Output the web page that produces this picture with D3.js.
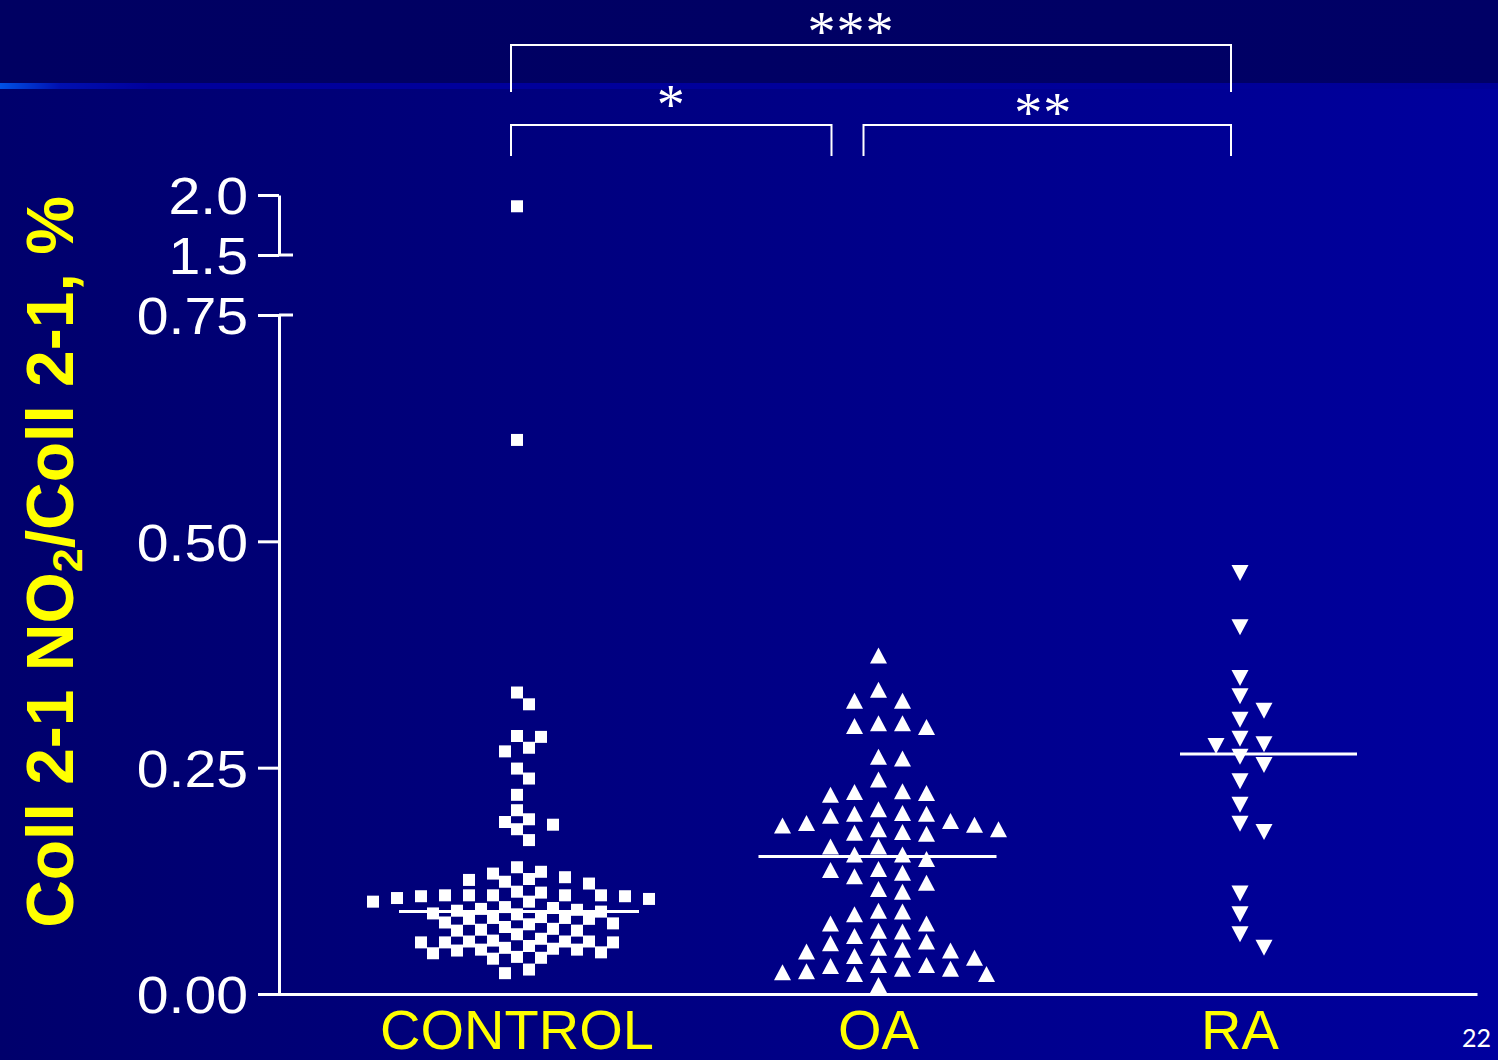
<!DOCTYPE html>
<html>
<head>
<meta charset="utf-8">
<script src="https://cdn.jsdelivr.net/npm/d3@7"></script>
<style>
  html, body { margin: 0; padding: 0; background: #000070; }
  svg { display: block; }
</style>
</head>
<body>
<svg id="chart" width="1498" height="1060"></svg>
<script>
// ---- data ----
const groups = ["CONTROL", "OA", "RA"];

const controlValues = [
  1.906, 0.612, 0.333, 0.320, 0.285, 0.284, 0.272, 0.268, 0.249, 0.238,
  0.220, 0.203, 0.193, 0.190, 0.187, 0.182, 0.170,
  0.129, 0.109, 0.088, 0.070, 0.057, 0.102,
  0.126, 0.109, 0.085, 0.066, 0.057, 0.046, 0.095,
  0.122, 0.108, 0.083, 0.059, 0.049, 0.040, 0.094,
  0.112, 0.105, 0.079, 0.058, 0.049, 0.039, 0.091, 0.072,
  0.135, 0.106, 0.077, 0.050, 0.023, 0.113, 0.089, 0.058,
  0.140, 0.108, 0.078, 0.051, 0.027, 0.124, 0.092, 0.061,
  0.109, 0.083, 0.053, 0.041, 0.127, 0.093, 0.070,
  0.109, 0.084, 0.057, 0.045, 0.133, 0.096, 0.071,
  0.109, 0.084, 0.058, 0.048, 0.102, 0.074
];

const oaValues = [
  0.374, 0.336, 0.324, 0.324, 0.299, 0.295, 0.296, 0.299, 0.262, 0.260,
  0.237, 0.223, 0.220, 0.222, 0.224, 0.204, 0.199, 0.199, 0.200, 0.197,
  0.189, 0.187, 0.191, 0.186, 0.182, 0.178, 0.177, 0.179, 0.182, 0.163,
  0.163, 0.154, 0.149, 0.154, 0.137, 0.138, 0.130, 0.134, 0.123, 0.116,
  0.113, 0.092, 0.088, 0.091, 0.078, 0.078, 0.069, 0.070, 0.058, 0.064,
  0.056, 0.051, 0.048, 0.042, 0.040, 0.047, 0.049, 0.032, 0.028, 0.025,
  0.022, 0.032, 0.022, 0.024, 0.028, 0.031, 0.010
];

const raValues = [
  0.465, 0.405, 0.349, 0.329, 0.313, 0.303, 0.282, 0.274, 0.276, 0.262,
  0.253, 0.235, 0.209, 0.188, 0.179, 0.111, 0.088, 0.066, 0.051
];

const medians = [0.091, 0.152, 0.265];

const lowerTicks = [0, 0.25, 0.5, 0.75];
const lowerTickLabels = ["0.00", "0.25", "0.50", "0.75"];
const upperTicks = [1.5, 2.0];
const upperTickLabels = ["1.5", "2.0"];

const comparisons = [
  { from: "CONTROL", to: "RA", label: "***" },
  { from: "CONTROL", to: "OA", label: "*" },
  { from: "OA", to: "RA", label: "**" }
];

// ---- layout / style ----
const W = 1498, H = 1060;
const axisX = 279, axisRight = 1477;
const white = "#ffffff", yellow = "#ffff00";
const sansFont = "'Liberation Sans', Arial, sans-serif";

const svg = d3.select("#chart");
const defs = svg.append("defs");

// slide background
function hGradient(id, stops) {
  const g = defs.append("linearGradient").attr("id", id)
    .attr("x1", 0).attr("x2", 1).attr("y1", 0).attr("y2", 0);
  stops.forEach(([o, c]) => g.append("stop").attr("offset", o).attr("stop-color", c));
}
hGradient("bg", [[0, "#00006c"], [1, "#00009e"]]);
hGradient("topband", [[0, "#000062"], [1, "#000066"]]);
hGradient("rule", [[0, "#0052e6"], [0.04, "#0010b0"], [0.1, "#00009c"], [1, "#000098"]]);

svg.append("rect").attr("width", W).attr("height", H).attr("fill", "url(#bg)");
svg.append("rect").attr("width", W).attr("height", 83).attr("fill", "url(#topband)");
svg.append("rect").attr("y", 83).attr("width", W).attr("height", 6).attr("fill", "url(#rule)");

// ---- scales (broken y axis) ----
const yLow = d3.scaleLinear().domain([0, 0.75]).range([994, 315]);
const yHigh = d3.scaleLinear().domain([1.5, 2.0]).range([255, 195]);
const yPos = v => (v > 0.75 ? yHigh(v) : yLow(v));

const x = d3.scalePoint().domain(groups).range([517, 1240]);

// ---- axes ----
const tickStretch = 1.1;
function styleAxis(g) {
  g.selectAll("path.domain").attr("stroke", white).attr("stroke-width", 3);
  g.selectAll(".tick line").attr("stroke", white).attr("stroke-width", 3);
  g.selectAll(".tick text")
    .attr("fill", white)
    .attr("x", -31 / tickStretch)
    .attr("dy", "0.36em")
    .attr("transform", `scale(${tickStretch},1)`)
    .style("font-family", sansFont)
    .style("font-size", "52px");
}

const yAxisLow = d3.axisLeft(yLow).tickValues(lowerTicks)
  .tickFormat((d, i) => lowerTickLabels[i]).tickSize(21).tickSizeOuter(0);
svg.append("g").attr("transform", `translate(${axisX},0)`).call(yAxisLow).call(styleAxis);

const yAxisHigh = d3.axisLeft(yHigh).tickValues(upperTicks)
  .tickFormat((d, i) => upperTickLabels[i]).tickSize(21).tickSizeOuter(0);
svg.append("g").attr("transform", `translate(${axisX},0)`).call(yAxisHigh).call(styleAxis);

// caps at the axis break
const caps = [yLow(0.75), yHigh(1.5)];
svg.selectAll("line.cap").data(caps).join("line")
  .attr("class", "cap")
  .attr("x1", axisX).attr("x2", axisX + 14)
  .attr("y1", d => d).attr("y2", d => d)
  .attr("stroke", white).attr("stroke-width", 3);

// x axis line
const xLine = d3.scaleLinear().domain([0, 1]).range([axisX - 1.5, axisRight]);
const xAxisG = svg.append("g").attr("transform", `translate(0,${yLow(0)})`)
  .call(d3.axisBottom(xLine).tickValues([]).tickSizeOuter(0));
xAxisG.select("path.domain").attr("stroke", white).attr("stroke-width", 3);

// category labels
svg.selectAll("text.cat").data(groups).join("text")
  .attr("class", "cat")
  .attr("x", d => x(d))
  .attr("y", 1049)
  .attr("text-anchor", "middle")
  .attr("fill", yellow)
  .style("font-family", sansFont)
  .style("font-size", "56px")
  .text(d => d);

// y axis title
const title = svg.append("text")
  .attr("transform", "translate(73,562) rotate(-90)")
  .attr("text-anchor", "middle")
  .attr("fill", yellow)
  .style("font-family", sansFont)
  .style("font-weight", "bold")
  .style("font-size", "66px");
title.append("tspan").text("Coll 2-1 NO");
title.append("tspan").attr("dy", "0.2em").style("font-size", "43px").text("2");
title.append("tspan").attr("dy", "-0.13em").text("/Coll 2-1, %");

// ---- scatter layout: greedy placement on a 12 px grid ----
// points in the same column keep sameH apart, points one step over keep adjH apart
function swarm(values, cx, step, sameH, adjH) {
  const pts = values.map(v => ({ v, py: yPos(v) })).sort((a, b) => a.py - b.py);
  const placed = [];
  const offsets = [0];
  for (let k = 1; k < 30; k++) offsets.push(k, -k);
  const clash = (q, px, py) => {
    const dx = Math.abs(q.px - px), dy = Math.abs(q.py - py);
    if (dx < 1) return dy < sameH;
    if (dx < step + 1) return dy < adjH;
    return false;
  };
  pts.forEach(p => {
    for (const k of offsets) {
      const px = cx + k * step;
      if (!placed.some(q => clash(q, px, p.py))) { p.px = px; placed.push(p); break; }
    }
  });
  return placed;
}

const sq = 12, tw = 17, th = 16;
const squarePath = `M${-sq / 2},${-sq / 2}h${sq}v${sq}h${-sq}Z`;
const triUpPath = `M0,${-th / 2}L${tw / 2},${th / 2}L${-tw / 2},${th / 2}Z`;
const triDownPath = `M${-tw / 2},${-th / 2}L${tw / 2},${-th / 2}L0,${th / 2}Z`;

const series = [
  { name: "CONTROL", values: controlValues, path: squarePath, sameH: 15, adjH: 7 },
  { name: "OA", values: oaValues, path: triUpPath, sameH: 17, adjH: 16 },
  { name: "RA", values: raValues, path: triDownPath, sameH: 17, adjH: 17 }
];

series.forEach(s => {
  const pts = swarm(s.values, x(s.name), 12, s.sameH, s.adjH);
  svg.append("g").selectAll("path").data(pts).join("path")
    .attr("d", s.path)
    .attr("transform", d => `translate(${d.px},${d.py})`)
    .attr("fill", white);
});

// median lines
const medianSpan = [[-118, 122], [-120, 118], [-60, 117]];
svg.selectAll("line.median").data(groups).join("line")
  .attr("class", "median")
  .attr("x1", (d, i) => x(d) + medianSpan[i][0])
  .attr("x2", (d, i) => x(d) + medianSpan[i][1])
  .attr("y1", (d, i) => yLow(medians[i]))
  .attr("y2", (d, i) => yLow(medians[i]))
  .attr("stroke", white).attr("stroke-width", 3);

// ---- significance brackets ----
const bracketStyle = [
  { top: 45, bottom: 92, x0: -6, x1: -9, baseline: 51, dx: -20 },
  { top: 125, bottom: 156, x0: -6, x1: -47, baseline: 124, dx: 0 },
  { top: 125, bottom: 156, x0: -15, x1: -9, baseline: 132, dx: -4 }
];
comparisons.forEach((c, i) => {
  const st = bracketStyle[i];
  const xa = x(c.from) + st.x0, xb = x(c.to) + st.x1;
  svg.append("path")
    .attr("d", `M${xa},${st.bottom}V${st.top}H${xb}V${st.bottom}`)
    .attr("fill", "none").attr("stroke", white).attr("stroke-width", 2);
  svg.append("text")
    .attr("x", (xa + xb) / 2 + st.dx)
    .attr("y", st.baseline)
    .attr("text-anchor", "middle")
    .attr("fill", white)
    .attr("letter-spacing", "1px")
    .style("font-family", "'Liberation Serif', 'Times New Roman', serif")
    .style("font-size", "56px")
    .text(c.label);
});

// slide number
svg.append("text")
  .attr("x", 1491).attr("y", 1047)
  .attr("text-anchor", "end")
  .attr("fill", white)
  .style("font-family", "Lato, 'Open Sans', sans-serif")
  .style("font-size", "25px")
  .text("22");
</script>
</body>
</html>
